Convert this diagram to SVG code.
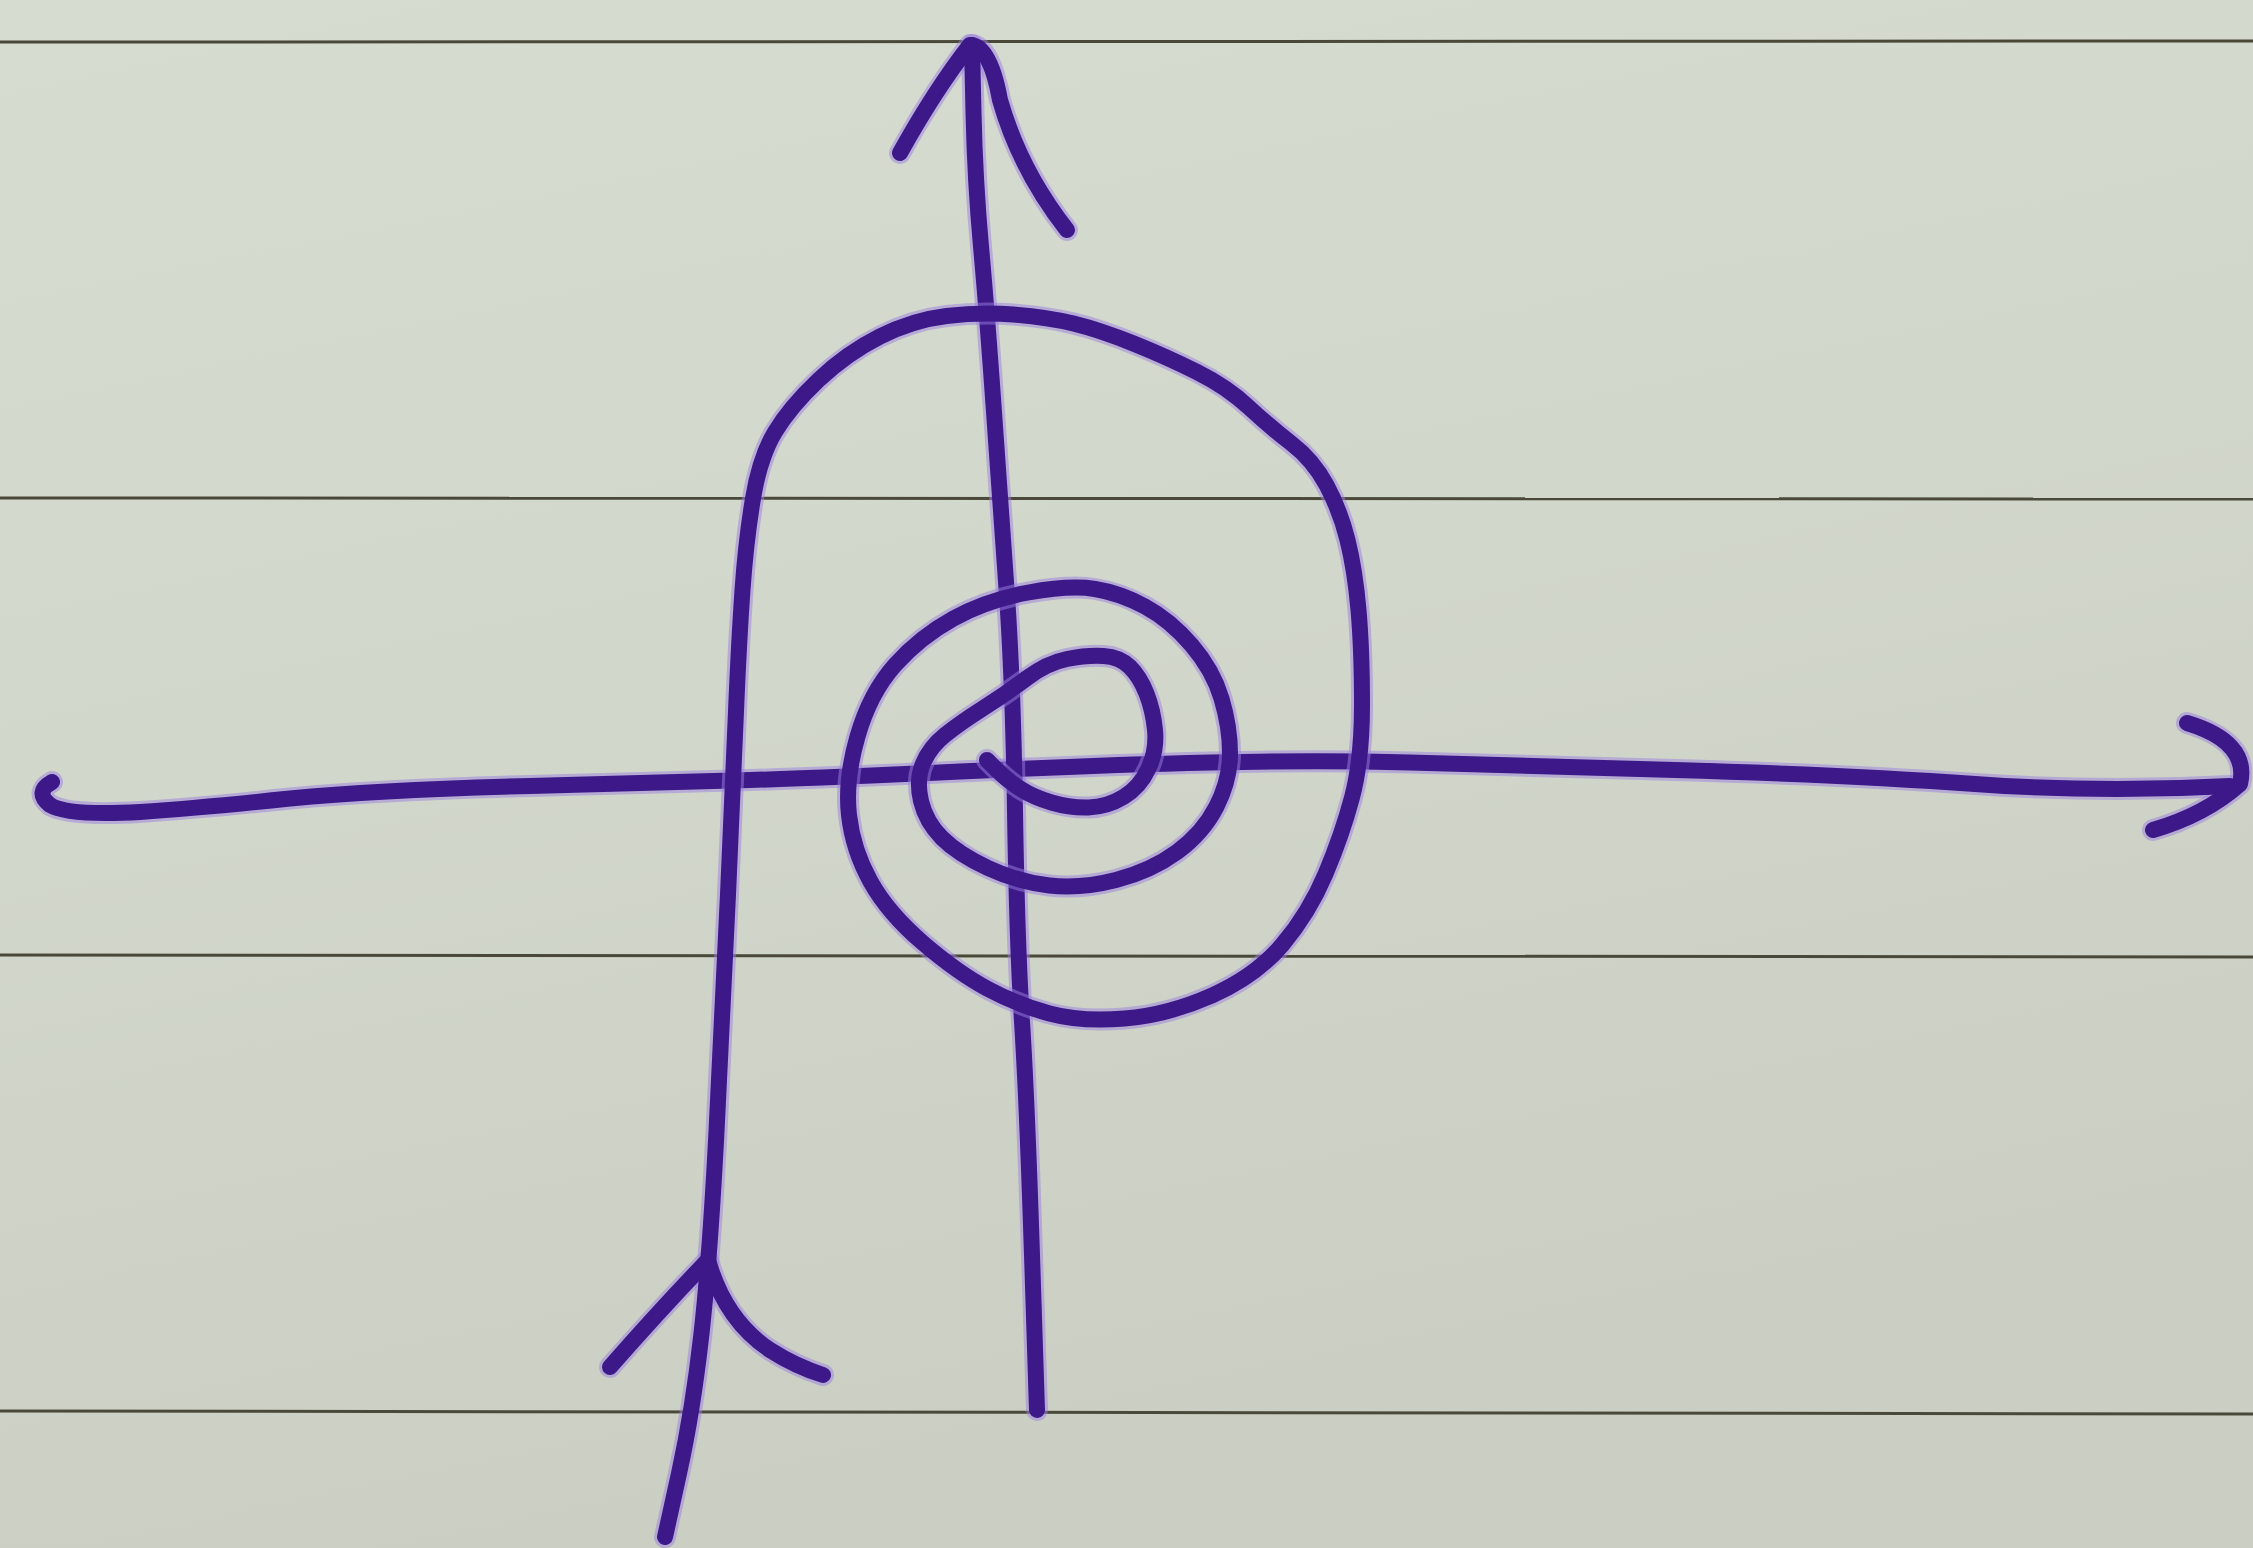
<svg xmlns="http://www.w3.org/2000/svg" xmlns:xlink="http://www.w3.org/1999/xlink" width="2253" height="1548" viewBox="0 0 2253 1548">
  <defs>
    <linearGradient id="paper" x1="0" y1="0" x2="0.3" y2="1">
      <stop offset="0" stop-color="#d7dcd1"/>
      <stop offset="0.5" stop-color="#d2d7cb"/>
      <stop offset="1" stop-color="#cbcfc3"/>
    </linearGradient>
    <style>
      .rule { stroke: #4a4939; stroke-width: 3; fill: none; }
      .halo { stroke: #9a7fe0; stroke-opacity: 0.5; stroke-width: 22; fill: none; stroke-linecap: round; stroke-linejoin: round; }
      .ink { stroke: #3d1888; stroke-width: 16; fill: none; stroke-linecap: round; stroke-linejoin: round; }
    </style>
    <path id="p-horizontal" d="M52,782 Q34,792 50,805 Q68,816 140,812 Q200,808 290,798.5 Q380,790 530,786 Q680,782 750,780 Q820,778 960,771.5 Q1100,765 1210,762.5 Q1320,760 1410,762.5 Q1500,765 1675,770 Q1850,775 1975,784 Q2100,793 2230,786"/>
    <path id="p-horizontal-head" d="M2187,723 Q2250,742 2240,784 Q2205,815 2153,830"/>
    <path id="p-vertical" d="M1037,1410 L1032,1255 Q1027,1100 1022,1021.5 Q1017,943 1015,811.5 Q1013,680 1006.5,588.5 Q1000,497 993.5,405 Q987,313 981,246.5 Q975,180 973.5,112.5 L972,45"/>
    <path id="p-vertical-head" d="M900,153 Q935,90 970,45 Q990,45 1000,100 Q1020,170 1067,230"/>
    <path id="p-spiral" d="M665,1537 L679,1473.5 Q693,1410 701.5,1333.5 Q710,1257 716.5,1131.5 Q723,1006 728,894.5 Q733,783 736,711.5 Q739,640 742.5,590 Q746,540 753,498.5 Q760,457 775,432 Q790,407 818.5,380 Q847,353 880,336.5 Q913,320 946.5,316 Q980,312 1013.5,314.5 Q1047,317 1073.5,323.5 Q1100,330 1133.5,343.5 Q1167,357 1197,372 Q1227,387 1248.5,407 Q1270,427 1291.5,443.5 Q1313,460 1326.5,485 Q1340,510 1347.5,540 Q1355,570 1358.5,610 Q1362,650 1362,705 Q1362,760 1352,797.5 Q1342,835 1325.5,874 Q1309,913 1282.5,944.5 Q1256,976 1212,995.5 Q1168,1015 1124.5,1018.5 Q1081,1022 1049.5,1013.5 Q1018,1005 988,989 Q958,973 923,943 Q888,913 870.5,881.5 Q853,850 849,815 Q845,780 857.5,736.5 Q870,693 895,665 Q920,637 953.5,618.5 Q987,600 1028.5,592.5 Q1070,585 1095,589 Q1120,593 1145,606.5 Q1170,620 1191.5,645 Q1213,670 1221.5,698.5 Q1230,727 1230,753.5 Q1230,780 1216.5,806.5 Q1203,833 1177,852 Q1151,871 1116,880 Q1081,889 1049.5,885.5 Q1018,882 988,868 Q958,854 942,838 Q926,822 921,801 Q916,780 923,763.5 Q930,747 945,735 Q960,723 983.5,708 Q1007,693 1027,678 Q1047,663 1067,659 Q1087,655 1103.5,656 Q1120,657 1130,667 Q1140,677 1146.5,693.5 Q1153,710 1155,730 Q1157,750 1148.5,768.5 Q1140,787 1123.5,797 Q1107,807 1088.5,807.5 Q1070,808 1051.5,802.5 Q1033,797 1020,788.5 Q1007,780 997,770 L987,760"/>
    <path id="p-spiral-head" d="M610,1367 Q660,1310 708,1260 Q725,1320 770,1350 Q795,1366 823,1375"/>
  </defs>

  <rect id="paper-sheet" x="0" y="0" width="2253" height="1548" fill="url(#paper)"/>

  <g id="ruled-lines">
    <line class="rule" x1="0" y1="42" x2="2253" y2="41"/>
    <line class="rule" x1="0" y1="498" x2="2253" y2="499"/>
    <line class="rule" x1="0" y1="955" x2="2253" y2="957"/>
    <line class="rule" x1="0" y1="1411" x2="2253" y2="1414"/>
  </g>

  <g id="horizontal-axis">
    <use xlink:href="#p-horizontal" class="halo"/>
    <use xlink:href="#p-horizontal-head" class="halo"/>
    <use xlink:href="#p-horizontal" class="ink"/>
    <use xlink:href="#p-horizontal-head" class="ink"/>
  </g>

  <g id="vertical-axis">
    <use xlink:href="#p-vertical" class="halo"/>
    <use xlink:href="#p-vertical-head" class="halo"/>
    <use xlink:href="#p-vertical" class="ink"/>
    <use xlink:href="#p-vertical-head" class="ink"/>
  </g>

  <g id="spiral-trajectory">
    <use xlink:href="#p-spiral" class="halo"/>
    <use xlink:href="#p-spiral-head" class="halo"/>
    <use xlink:href="#p-spiral" class="ink"/>
    <use xlink:href="#p-spiral-head" class="ink"/>
  </g>
</svg>
